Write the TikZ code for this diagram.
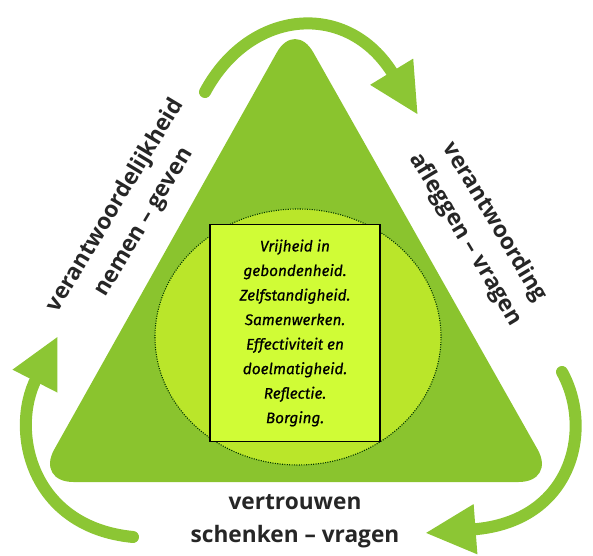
\documentclass[tikz,border=0pt]{standalone}
\usepackage{fontspec}
\setmainfont{Open Sans}
\newfontfamily\boxfont[FakeBold=0.6]{Fira Sans}
\usetikzlibrary{arrows.meta}
\definecolor{trigreen}{RGB}{138,196,46}
\definecolor{circgreen}{RGB}{186,230,42}
\definecolor{boxgreen}{RGB}{208,252,54}
\definecolor{arrgreen}{RGB}{140,198,52}
\tikzset{
  cycle arrow/.style={draw=arrgreen, line width=9pt, line cap=round,
    -{Triangle[length=38pt,width=35pt,fill=arrgreen]}},
  side label/.style={align=center, font=\bfseries\fontsize{17}{25}\selectfont, text=black!85},
}
\begin{document}
\begin{tikzpicture}[x=0.75pt,y=-0.75pt]
  \useasboundingbox (0,0) rectangle (593,556);
  % triangle
  \fill[trigreen, rounded corners=28pt] (295,20) -- (36,482) -- (556,482) -- cycle;
  % circle
  \filldraw[fill=circgreen, draw=black!55!green!45!black, densely dotted, thick]
    (298,337) ellipse [x radius=143, y radius=128];
  % box with values
  \node[draw=black, thick, fill=boxgreen, minimum width=127.5pt, minimum height=163pt,
        align=center, font=\boxfont\itshape\fontsize{11.5}{18.4}\selectfont]
    (values) at (295,333)
    {Vrijheid in\\ gebondenheid.\\ Zelfstandigheid.\\ Samenwerken.\\
     Effectiviteit en\\ doelmatigheid.\\ Reflectie.\\ Borging.};
  % labels
  \node[side label, rotate=59] (nemen) at (130,214) {verantwoordelijkheid\\ nemen -- geven};
  \node[side label, rotate=-59] (afleggen) at (480,231) {verantwoording\\ afleggen -- vragen};
  \node[side label] (schenken) at (295,521) {vertrouwen\\ schenken -- vragen};
  % arrows
  \draw[cycle arrow] (205,92) .. controls (250,8) and (348,0) .. (418,115);
  \draw[cycle arrow] (562,372) .. controls (594,430) and (572,522) .. (425,533);
  \draw[cycle arrow] (133,537) .. controls (30,527) and (10,430) .. (58,336);
\end{tikzpicture}
\end{document}
